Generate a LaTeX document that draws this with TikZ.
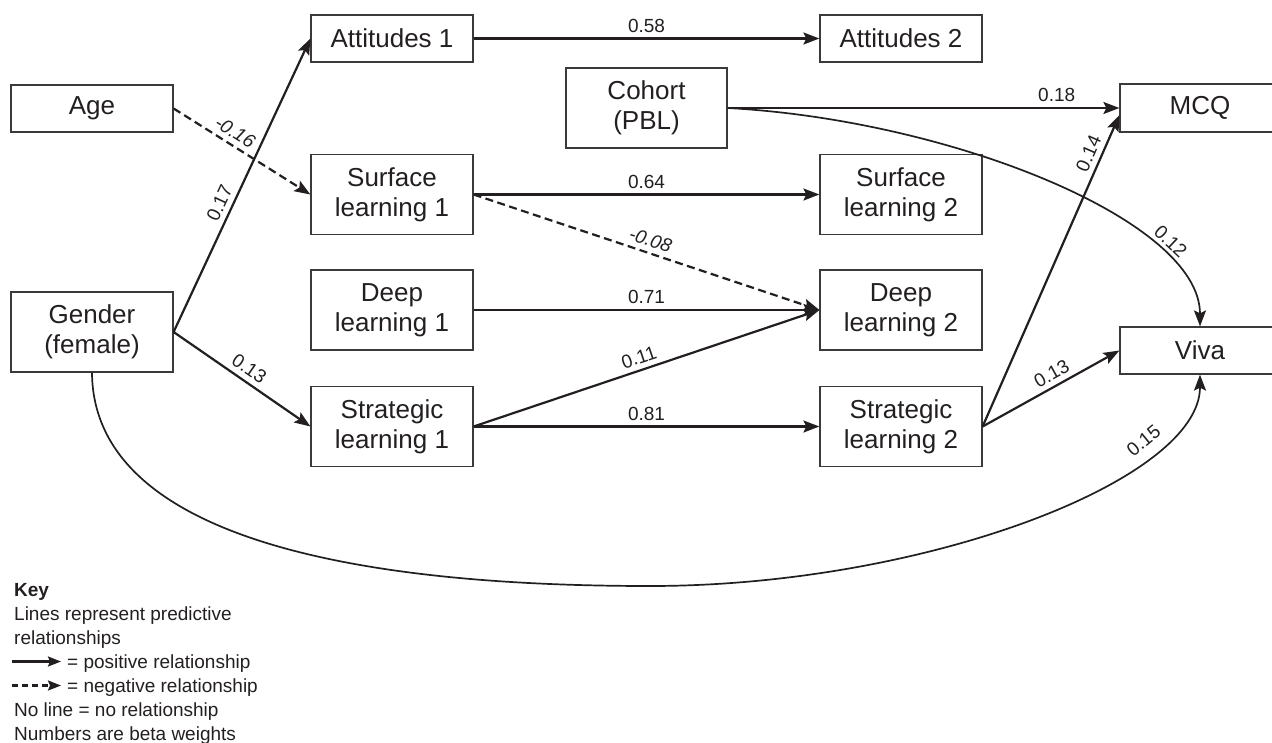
\documentclass[tikz,border=0pt]{standalone}
\usepackage{fontspec}
\setmainfont{Liberation Sans}
\usetikzlibrary{arrows.meta,calc}
\definecolor{ink}{HTML}{231F20}
\definecolor{boxc}{HTML}{3A3A3A}
\begin{document}
\begin{tikzpicture}[x=1pt,y=-1pt,
  box/.style={draw=boxc, line width=1.2pt, minimum width=162pt, inner sep=0pt, align=center,
              font=\fontsize{26}{30}\selectfont, text=ink},
  one/.style={box, minimum height=47pt},
  two/.style={box, minimum height=80pt},
  conn/.style={draw=ink, line width=2.2pt, -{Stealth[length=16pt,width=12pt,inset=3pt]}},
  neg/.style={conn, dash pattern=on 8pt off 4.5pt},
  curv/.style={conn, line width=1.7pt},
  lab/.style={font=\fontsize{19}{22}\selectfont, text=ink, inner sep=5pt},
  clab/.style={lab, inner sep=7pt},
  nlab/.style={lab, font=\fontsize{19}{22}\selectfont\itshape},
  keyt/.style={font=\fontsize{19}{23}\selectfont, text=ink, anchor=base west, inner sep=0pt},
  keyarrow/.style={draw=ink, line width=2.2pt, -{Stealth[length=13pt,width=10pt,inset=2pt]}}]
\useasboundingbox (0,0) rectangle (1272,742);

% nodes
\node[one] (age) at (92,108.5) {Age};
\node[two] (gender) at (92,332) {Gender\\(female)};
\node[one] (att1) at (392,38.5) {Attitudes 1};
\node[two] (surf1) at (392,194.5) {Surface\\learning 1};
\node[two] (deep1) at (392,310) {Deep\\learning 1};
\node[two] (strat1) at (392,426.5) {Strategic\\learning 1};
\node[two, minimum width=161pt] (cohort) at (646.5,108) {Cohort\\(PBL)};
\node[one] (att2) at (901,38.5) {Attitudes 2};
\node[two] (surf2) at (901,194.5) {Surface\\learning 2};
\node[two] (deep2) at (901,310) {Deep\\learning 2};
\node[two] (strat2) at (901,426.5) {Strategic\\learning 2};
\node[one, minimum width=160pt, minimum height=48pt] (mcq) at (1200,108) {MCQ};
\node[one, minimum width=160pt] (viva) at (1200,350.5) {Viva};
\coordinate (gbottom) at (650,586);

% connectors
\draw[conn] (att1.east) -- node[lab, above] {0.58} (att2.west);
\draw[neg] (age.east) -- node[nlab, above, sloped, pos=0.4] {-0.16} (surf1.west);
\draw[conn] (gender.east) -- node[lab, above, sloped, pos=0.42] {0.17} (att1.west);
\draw[conn] (gender.east) -- node[lab, above, sloped, pos=0.5] {0.13} (strat1.west);
\draw[conn] (surf1.east) -- node[lab, above] {0.64} (surf2.west);
\draw[neg] (surf1.east) -- node[nlab, above, sloped, pos=0.5] {-0.08} (deep2.west);
\draw[conn] (deep1.east) -- node[lab, above] {0.71} (deep2.west);
\draw[conn] (strat1.east) -- node[lab, above, sloped, pos=0.49] {0.11} (deep2.west);
\draw[conn] (strat1.east) -- node[lab, above] {0.81} (strat2.west);
\draw[conn] (cohort.east) -- node[lab, above, pos=0.84] {0.18} (mcq.west);
\draw[curv] (cohort.east) .. controls (950,120) and (1200,220) .. node[clab, above, sloped, pos=0.76] {0.12} (viva.north);
\draw[conn] (strat2.east) -- node[lab, above, sloped, pos=0.86] {0.14} (mcq.185);
\draw[conn] (strat2.east) -- node[lab, above, sloped, pos=0.55] {0.13} (viva.west);
\draw[curv] (gender.south) .. controls (93,515) and (290,586) .. (gbottom)
  .. controls (925,586) and (1200,480) .. node[clab, above, sloped, pos=0.75] {0.15} (viva.south);

% key
\node[keyt, font=\fontsize{19}{23}\selectfont\bfseries] (key) at (14,596) {Key};
\node[keyt] (k1) at (14,620) {Lines represent predictive};
\node[keyt] (k2) at (14,644) {relationships};
\node[keyt] (kpos) at (67,668) {= positive relationship};
\node[keyt] (kneg) at (67,692) {= negative relationship};
\node[keyt] (k5) at (14,716) {No line = no relationship};
\node[keyt] (k6) at (14,740) {Numbers are beta weights};
\coordinate (kp0) at (12,661.5);
\coordinate (kp1) at (61,661.5);
\coordinate (kn0) at (12,685.5);
\coordinate (kn1) at (61,685.5);
\draw[keyarrow] (kp0) -- (kp1);
\draw[keyarrow, dash pattern=on 6pt off 4pt] (kn0) -- (kn1);
\end{tikzpicture}
\end{document}
